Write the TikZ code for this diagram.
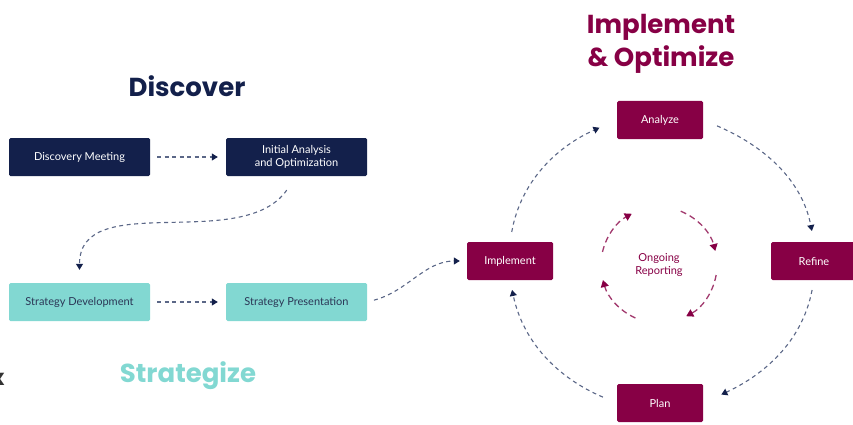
\documentclass[tikz,border=0pt]{standalone}
\usepackage{fontspec}
\setmainfont{Lato}
\newfontfamily\headfont{Poppins}
\usetikzlibrary{arrows.meta}

\definecolor{navy}{HTML}{13204B}
\definecolor{stratteal}{HTML}{82D8D2}
\definecolor{wine}{HTML}{870045}
\definecolor{dashgrey}{HTML}{5B6787}
\definecolor{ringwine}{HTML}{A23A6E}
\definecolor{darktext}{HTML}{2B3656}
\definecolor{cutgrey}{HTML}{333333}

\begin{document}
\begin{tikzpicture}[
    x=1pt,y=-1pt,
    phase/.style={rectangle,rounded corners=1.5pt,minimum width=141pt,minimum height=38pt,
        inner sep=0pt,align=center,font=\fontsize{11}{13}\selectfont},
    discoverbox/.style={phase,fill=navy,text=white},
    strategybox/.style={phase,fill=stratteal,text=darktext},
    optimizebox/.style={phase,fill=wine,text=white,minimum width=86pt},
    phasetitle/.style={align=center,font=\headfont\bfseries\fontsize{26}{33}\selectfont},
    flow/.style={draw=dashgrey,line width=1.1pt,dash pattern=on 4pt off 3.5pt,
        -{Triangle[length=6pt,width=7pt,color=navy]}},
    reportflow/.style={draw=ringwine,line width=1.3pt,dash pattern=on 6pt off 4pt,
        -{Triangle[length=7pt,width=8pt,color=wine]}}
]
    \useasboundingbox (0,0) rectangle (853,425);

    % Discover
    \node[phasetitle,text=navy] (discover) at (187,86) {Discover};
    \node[discoverbox] (meeting) at (79.5,157) {Discovery Meeting};
    \node[discoverbox] (analysis) at (296.5,157) {Initial Analysis\\and Optimization};

    % Strategize
    \node[strategybox] (development) at (79.5,302) {Strategy Development};
    \node[strategybox] (presentation) at (296.5,302) {Strategy Presentation};
    \node[phasetitle,text=stratteal] (strategize) at (188,376) {Strategize};
    \node[text=cutgrey,font=\headfont\bfseries\fontsize{22}{22}\selectfont] (cut) at (-2,379) {x};

    \draw[flow,shorten <=7pt,shorten >=8pt] (meeting) -- (analysis);
    \draw[flow,shorten <=17pt,shorten >=13pt] (analysis.south) to[out=235,in=90] (development.north);
    \draw[flow,shorten <=7pt,shorten >=8pt] (development) -- (presentation);

    % Implement & Optimize cycle
    \node[phasetitle,text=wine] (optimize) at (661,44) {Implement\\\& Optimize};
    \node[optimizebox] (implement) at (510,261) {Implement};
    \node[optimizebox] (analyze) at (660,120) {Analyze};
    \node[optimizebox] (refine) at (814,261) {Refine};
    \node[optimizebox] (plan) at (660,403) {Plan};
    \node[text=wine,align=center,font=\fontsize{11}{13}\selectfont] (reporting) at (659,265) {Ongoing\\Reporting};

    \draw[flow,shorten <=7pt,shorten >=7pt] (presentation.east) to[out=15,in=180] (implement.west);
    \draw[flow,shorten <=10pt,shorten >=19pt] (implement.north) to[out=80,in=204] (analyze.west);
    \draw[flow,shorten <=15pt,shorten >=11pt] (analyze.east) to[out=-23,in=101] (refine.north);
    \draw[flow,shorten <=10pt,shorten >=20pt] (refine.south) to[out=-101,in=25] (plan.east);
    \draw[flow,shorten <=15pt,shorten >=10pt] (plan.west) to[out=157,in=-78] (implement.south);

    % ongoing reporting ring
    \draw[reportflow] ([shift={(167:58pt)}]reporting.center) arc[start angle=167,end angle=118,radius=58pt];
    \draw[reportflow] ([shift={(68:58pt)}]reporting.center) arc[start angle=68,end angle=14,radius=58pt];
    \draw[reportflow] ([shift={(-10:58pt)}]reporting.center) arc[start angle=-10,end angle=-62,radius=58pt];
    \draw[reportflow] ([shift={(-114:58pt)}]reporting.center) arc[start angle=-114,end angle=-165,radius=58pt];
\end{tikzpicture}
\end{document}
